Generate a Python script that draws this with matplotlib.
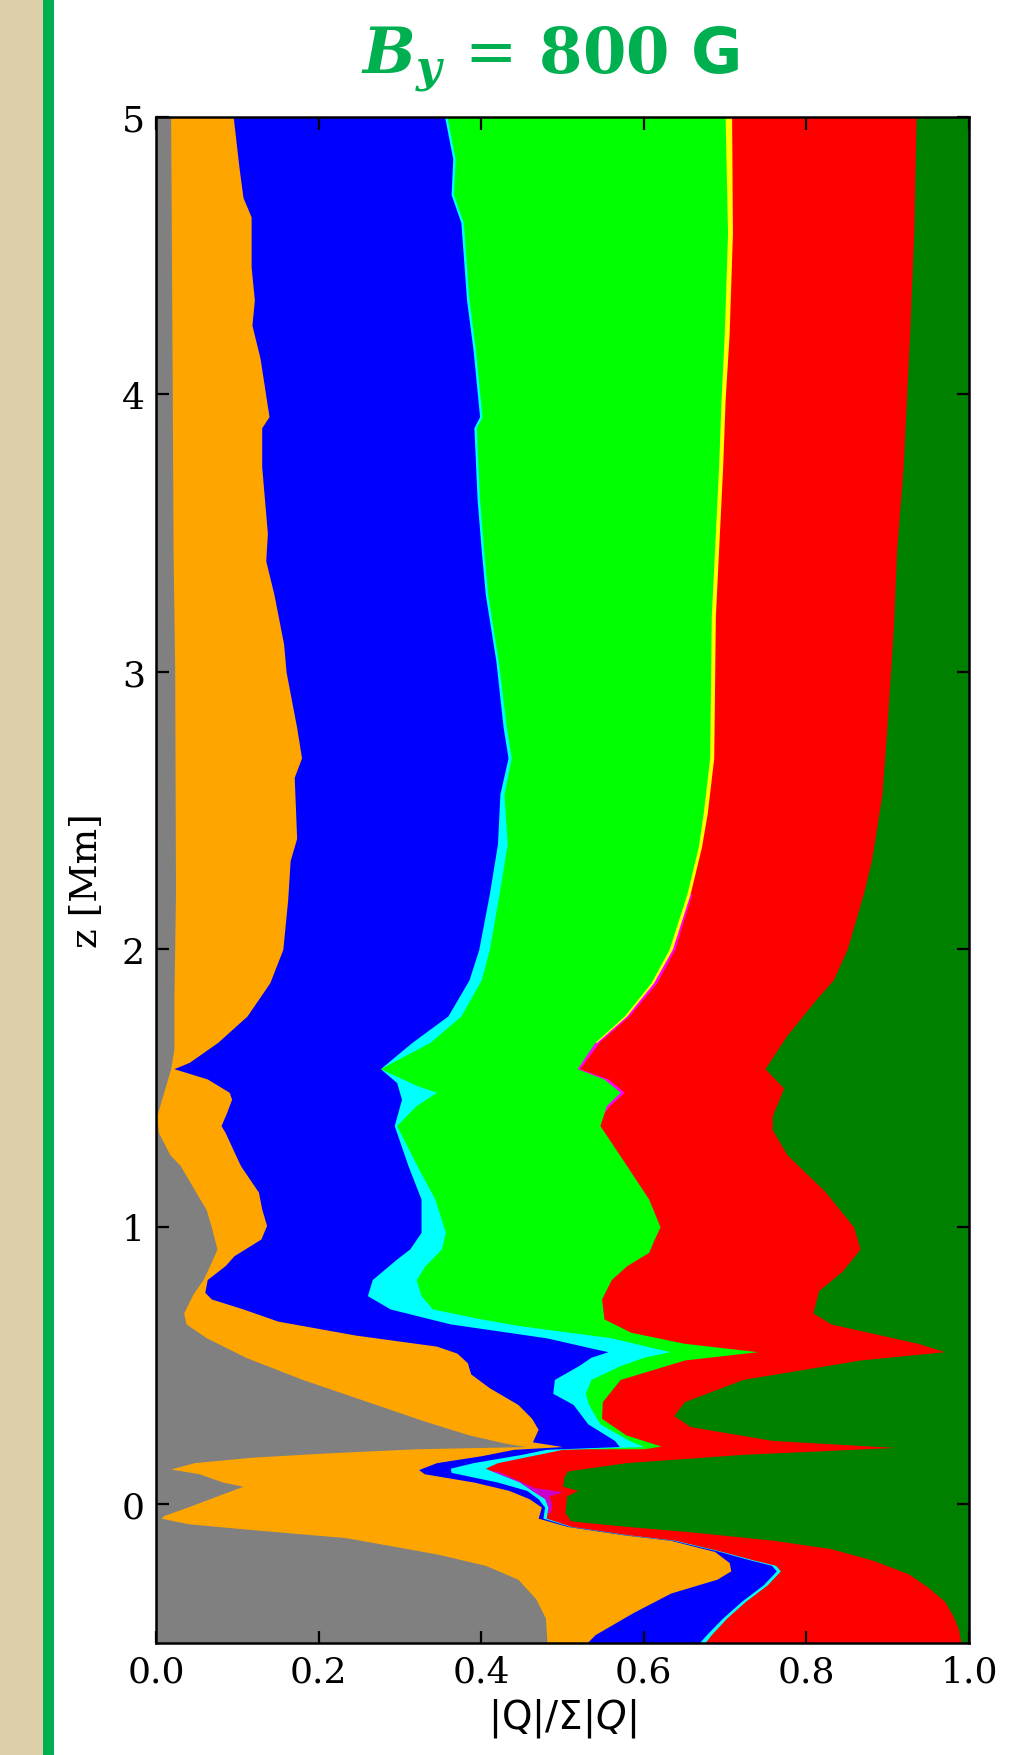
import matplotlib
matplotlib.use("Agg")
import matplotlib.pyplot as plt
from matplotlib.patches import Rectangle

# ---------------- data: cumulative fraction edges |Q|/sum|Q| vs height z [Mm] ----------------
gray_z = [5.0, 4.0, 3.44, 3.0, 2.2, 1.82, 1.64, 1.57, 1.45, 1.40, 1.34, 1.26, 1.22, 1.13, 1.06,
          1.0, 0.92, 0.86, 0.81, 0.76, 0.69, 0.65, 0.60, 0.53, 0.45, 0.37, 0.30, 0.25, 0.22, 0.208,
          0.200, 0.185, 0.17, 0.15, 0.127, 0.11, 0.08, 0.065, 0.03, -0.01, -0.04, -0.05, -0.07,
          -0.09, -0.12, -0.18, -0.22, -0.27, -0.34, -0.41, -0.5]
gray_x = [0.018, 0.020, 0.021, 0.023, 0.024, 0.022, 0.022, 0.018, 0.006, 0.001, 0.003, 0.017,
          0.03, 0.048, 0.062, 0.068, 0.075, 0.066, 0.058, 0.046, 0.034, 0.037, 0.062, 0.11, 0.18,
          0.26, 0.33, 0.385, 0.43, 0.455, 0.32, 0.21, 0.12, 0.047, 0.018, 0.053, 0.082, 0.107, 0.075,
          0.039, 0.010, 0.006, 0.039, 0.113, 0.233, 0.347, 0.405, 0.445, 0.467, 0.479, 0.481]

orange_z = [5.0, 4.82, 4.71, 4.64, 4.46, 4.34, 4.25, 4.13, 3.92, 3.88, 3.74, 3.50, 3.40, 3.28,
            3.10, 3.0, 2.80, 2.69, 2.62, 2.40, 2.32, 2.18, 2.0, 1.88, 1.76, 1.665, 1.593, 1.57,
            1.533, 1.485, 1.46, 1.413, 1.365, 1.34, 1.22, 1.125, 1.065, 1.005, 0.956, 0.896, 0.86,
            0.81, 0.764, 0.74, 0.704, 0.66, 0.61, 0.57, 0.545, 0.51, 0.47, 0.42, 0.36, 0.31, 0.27,
            0.225, 0.208, 0.198, 0.175, 0.15, 0.125, 0.11, 0.08, 0.05, 0.02, -0.01, -0.05, -0.08,
            -0.11, -0.13, -0.17, -0.21, -0.24, -0.27, -0.32, -0.39, -0.47, -0.5]
orange_x = [0.095, 0.102, 0.107, 0.117, 0.117, 0.121, 0.118, 0.128, 0.139, 0.130, 0.130, 0.137,
            0.135, 0.145, 0.157, 0.160, 0.173, 0.179, 0.170, 0.173, 0.165, 0.162, 0.156, 0.140,
            0.112, 0.076, 0.041, 0.022, 0.063, 0.090, 0.093, 0.087, 0.080, 0.085, 0.104, 0.126,
            0.130, 0.136, 0.129, 0.096, 0.085, 0.063, 0.060, 0.068, 0.107, 0.150, 0.245, 0.345,
            0.37, 0.383, 0.387, 0.41, 0.445, 0.462, 0.47, 0.463, 0.50, 0.44, 0.40, 0.345, 0.323,
            0.33, 0.391, 0.434, 0.459, 0.474, 0.470, 0.506, 0.575, 0.633, 0.687, 0.705, 0.707,
            0.690, 0.633, 0.587, 0.540, 0.530]

blue_z = [5.0, 4.85, 4.72, 4.62, 4.34, 4.16, 3.92, 3.88, 3.62, 3.44, 3.28, 3.04, 2.80, 2.69, 2.56,
          2.38, 2.20, 2.0, 1.89, 1.76, 1.665, 1.58, 1.57, 1.52, 1.46, 1.365, 1.22, 1.10, 0.98, 0.92,
          0.884, 0.81, 0.752, 0.704, 0.65, 0.60, 0.56, 0.55, 0.53, 0.50, 0.45, 0.40, 0.36, 0.29,
          0.23, 0.208, 0.198, 0.18, 0.15, 0.13, 0.115, 0.08, 0.05, 0.02, -0.01, -0.05, -0.08,
          -0.11, -0.13, -0.17, -0.20, -0.22, -0.24, -0.29, -0.35, -0.41, -0.47, -0.5]
blue_x = [0.355, 0.365, 0.363, 0.375, 0.382, 0.390, 0.398, 0.391, 0.395, 0.400, 0.405, 0.418,
          0.427, 0.433, 0.423, 0.420, 0.410, 0.397, 0.385, 0.359, 0.315, 0.280, 0.276, 0.296,
          0.302, 0.293, 0.310, 0.326, 0.326, 0.312, 0.296, 0.266, 0.260, 0.288, 0.362, 0.48, 0.54,
          0.556, 0.535, 0.52, 0.49, 0.488, 0.513, 0.531, 0.564, 0.57, 0.48, 0.45, 0.39, 0.362,
          0.363, 0.42, 0.456, 0.470, 0.478, 0.476, 0.509, 0.578, 0.636, 0.693, 0.73, 0.757, 0.763,
          0.747, 0.72, 0.697, 0.677, 0.668]

cyan_z = [5.0, 4.85, 4.72, 4.62, 4.34, 4.16, 3.92, 3.88, 3.62, 3.44, 3.28, 3.04, 2.80, 2.69, 2.56,
          2.38, 2.20, 2.0, 1.89, 1.76, 1.665, 1.57, 1.51, 1.485, 1.437, 1.365, 1.22, 1.10, 0.98,
          0.92, 0.86, 0.81, 0.752, 0.704, 0.668, 0.644, 0.60, 0.572, 0.55, 0.53, 0.50, 0.45, 0.40,
          0.36, 0.29, 0.23, 0.208, 0.198, 0.18, 0.15, 0.13, 0.115, 0.08, 0.05, 0.02, -0.01, -0.05,
          -0.08, -0.11, -0.13, -0.17, -0.20, -0.22, -0.24, -0.29, -0.35, -0.41, -0.47, -0.5]
cyan_x = [0.358, 0.368, 0.366, 0.378, 0.385, 0.393, 0.401, 0.394, 0.398, 0.403, 0.408, 0.421,
          0.431, 0.437, 0.428, 0.432, 0.422, 0.410, 0.400, 0.375, 0.337, 0.276, 0.320, 0.345,
          0.320, 0.296, 0.321, 0.343, 0.356, 0.351, 0.331, 0.320, 0.326, 0.340, 0.40, 0.447, 0.56,
          0.60, 0.632, 0.60, 0.571, 0.535, 0.528, 0.532, 0.546, 0.582, 0.60, 0.50, 0.47, 0.42,
          0.405, 0.417, 0.447, 0.462, 0.478, 0.482, 0.480, 0.511, 0.581, 0.639, 0.696, 0.734,
          0.762, 0.768, 0.752, 0.725, 0.702, 0.683, 0.675]

lime_z = [5.0, 4.58, 4.22, 3.98, 3.74, 3.44, 3.2, 2.69, 2.49, 2.37, 2.20, 2.0, 1.88, 1.76, 1.665,
          1.57, 1.533, 1.485, 1.437, 1.365, 1.22, 1.10, 1.0, 0.95, 0.908, 0.86, 0.81, 0.74, 0.668,
          0.62, 0.58, 0.55, 0.52, 0.45, 0.37, 0.31, 0.25, 0.21, 0.20]
lime_x = [0.700, 0.703, 0.699, 0.695, 0.692, 0.687, 0.683, 0.681, 0.673, 0.667, 0.653, 0.631,
          0.609, 0.576, 0.540, 0.518, 0.551, 0.571, 0.554, 0.546, 0.579, 0.606, 0.620, 0.612,
          0.606, 0.579, 0.560, 0.548, 0.551, 0.584, 0.65, 0.74, 0.65, 0.571, 0.549, 0.548, 0.578,
          0.621, 0.60]

yellow_z = [5.0, 4.58, 4.22, 3.98, 3.74, 3.44, 3.2, 2.69, 2.49, 2.37, 2.20, 2.0, 1.88, 1.76, 1.665]
yellow_x = [0.708, 0.709, 0.705, 0.700, 0.697, 0.692, 0.688, 0.686, 0.678, 0.671, 0.657, 0.635,
            0.612, 0.579, 0.542]

magenta_z = [2.20, 2.0, 1.88, 1.76, 1.665, 1.57, 1.533, 1.485, 1.437, 1.40]
magenta_x = [0.659, 0.638, 0.616, 0.582, 0.545, 0.521, 0.556, 0.576, 0.558, 0.548]
magenta2_z = [0.12, 0.10, 0.06, 0.045, 0.03, 0.0, -0.03]
magenta2_x = [0.42, 0.435, 0.466, 0.50, 0.483, 0.487, 0.485]

red_z = [5.0, 4.58, 4.22, 3.98, 3.74, 3.44, 3.16, 2.80, 2.56, 2.32, 2.20, 2.0, 1.89, 1.82, 1.69,
         1.57, 1.50, 1.40, 1.35, 1.26, 1.13, 1.0, 0.92, 0.84, 0.77, 0.69, 0.65, 0.58, 0.55, 0.52,
         0.45, 0.37, 0.32, 0.28, 0.23, 0.205, 0.18, 0.15, 0.12, 0.10, 0.065, 0.05, 0.03, -0.03,
         -0.06, -0.08, -0.10, -0.13, -0.16, -0.20, -0.25, -0.30, -0.35, -0.40, -0.45, -0.5]
red_x = [0.935, 0.932, 0.927, 0.923, 0.919, 0.911, 0.907, 0.899, 0.893, 0.880, 0.870, 0.850,
         0.833, 0.812, 0.776, 0.749, 0.772, 0.758, 0.758, 0.776, 0.822, 0.858, 0.866, 0.844,
         0.815, 0.808, 0.830, 0.937, 0.970, 0.866, 0.722, 0.650, 0.637, 0.657, 0.758, 0.909,
         0.722, 0.578, 0.506, 0.502, 0.500, 0.519, 0.505, 0.503, 0.510, 0.58, 0.66, 0.76, 0.83,
         0.88, 0.925, 0.95, 0.97, 0.98, 0.987, 0.99]

z_range = [-0.5, 5.0]
x_ticks = [0.0, 0.2, 0.4, 0.6, 0.8, 1.0]
z_ticks = [0, 1, 2, 3, 4, 5]

# ---------------- figure ----------------
W, H = 1017, 1756
fig = plt.figure(figsize=(W / 100, H / 100), dpi=100)
fig.patch.set_facecolor("white")
fig.patches.append(Rectangle((0, 0), 43 / W, 1, transform=fig.transFigure,
                             facecolor="#DCCFAA", edgecolor="none", zorder=0))
fig.patches.append(Rectangle((43 / W, 0), 11 / W, 1, transform=fig.transFigure,
                             facecolor="#00B050", edgecolor="none", zorder=0))

ax = fig.add_axes([156 / W, 1 - 1644 / H, 813 / W, 1526 / H])

# layers drawn back-to-front: each fills from 0 to its cumulative edge
ax.fill_betweenx(z_range, 0, 1, color="#008000", lw=0)
layers = [
    (red_z, red_x, "#FF0000"),
    (magenta_z, magenta_x, "#FF00FF"),
    (magenta2_z, magenta2_x, "#CC00CC"),
    (yellow_z, yellow_x, "#FFFF00"),
    (lime_z, lime_x, "#00FF00"),
    (cyan_z, cyan_x, "#00FFFF"),
    (blue_z, blue_x, "#0000FF"),
    (orange_z, orange_x, "#FFA500"),
    (gray_z, gray_x, "#808080"),
]
for zz, xx, col in layers:
    ax.fill_betweenx(zz, 0, xx, color=col, lw=0)

ax.set_xlim(0, 1)
ax.set_ylim(-0.5, 5)
ax.set_xticks(x_ticks)
ax.set_yticks(z_ticks)
ax.set_xticklabels([f"{v:.1f}" for v in x_ticks])
ax.tick_params(direction="in", top=True, right=True, length=9, width=1.6,
               labelsize=26, pad=8)
for lab in ax.get_xticklabels() + ax.get_yticklabels():
    lab.set_family("DejaVu Serif")
for sp in ax.spines.values():
    sp.set_linewidth(1.8)

ax.set_ylabel("z [Mm]", family="DejaVu Serif", fontsize=27, labelpad=12)
ax.set_xlabel(r"|Q|/$\Sigma|Q|$", family="DejaVu Sans", fontsize=28, labelpad=6)

fig.text(550 / W, 1 - 60 / H, r"$\mathbfit{B}_{\mathbfit{y}}\, =\, \mathbf{800}$ G",
         ha="center", va="center", fontsize=45, fontweight="bold", color="#00B050",
         family="DejaVu Sans", math_fontfamily="dejavuserif")

fig.savefig("out.png", dpi=100)
